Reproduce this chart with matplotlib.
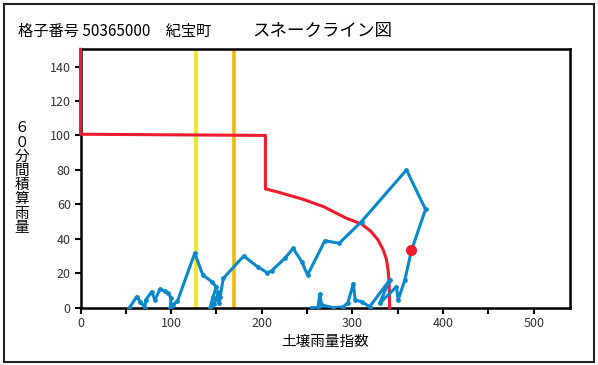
import matplotlib
matplotlib.use("Agg")
import matplotlib.pyplot as plt
from matplotlib.patches import Rectangle
from matplotlib.ticker import MultipleLocator

plt.rcParams['font.family'] = ['Noto Sans CJK JP', 'DejaVu Sans']

# Critical line (CL)
cl_x = [0, 0, 204, 204, 220, 245, 268, 293, 310, 320, 328, 334, 337.5, 339.5, 340.5, 341]
cl_y = [150, 100.7, 100, 69, 66.8, 63, 58.7, 52, 48.6, 44.5, 39.5, 33.5, 28, 21, 14, 0]

# Snake line (soil rainfall index vs 60-min rainfall)
snake_x = [54, 62, 66, 71, 72, 78.5, 82, 87.6, 93, 97, 100, 99, 102, 107,
           126, 135, 145, 150, 146, 143, 147, 150, 152, 153, 154, 157.5,
           180, 196, 206, 211, 225.5, 234.6, 244, 250.5, 269.6, 285.4, 310,
           359.6, 380.6, 365, 357.8, 350.4, 348.6, 330, 341, 319, 310, 303,
           301, 295, 290, 279, 266, 264, 262, 255]
snake_y = [0, 6.4, 3.5, 0, 4.5, 9.3, 4.5, 10.7, 9.7, 8.3, 5.5, 0, 1.6, 3.9,
           31.6, 19, 15, 12, 6, 0, 2, 5, 9, 3, 6, 17,
           30, 23.5, 20.3, 21.5, 28.7, 34.5, 26.7, 19, 38.9, 37.4, 50,
           80, 57.1, 33, 16.1, 4.5, 12.2, 2.5, 16, 0.6, 3.5, 4.5,
           14, 3, 0.5, 0, 1.6, 8, 0, 0]

# Current point
now_x = [365]
now_y = [33.5]

# Vertical reference lines
yellow_x = 127
orange_x = 169.6

fig = plt.figure(figsize=(5.98, 3.65), dpi=100)
ax = fig.add_axes([80.5/598, 1-307.7/365, (570-80.5)/598, (307.7-49.3)/365])

ax.axvline(yellow_x, color='#f2e41c', lw=2.6, zorder=2)
ax.axvline(orange_x, color='#f7b50a', lw=2.6, zorder=2)
ax.plot(cl_x, cl_y, color='#ee1c2c', lw=2.2, zorder=3, clip_on=False)
ax.plot(snake_x, snake_y, color='#0a88cc', lw=2.2, marker='o', ms=2.4,
        zorder=4, solid_joinstyle='round')
ax.plot(now_x, now_y, 'o', color='#ee1c2c', ms=7, zorder=5)

ax.set_xlim(0, 540)
ax.set_ylim(0, 150)
ax.xaxis.set_major_locator(MultipleLocator(100))
ax.xaxis.set_minor_locator(MultipleLocator(50))
ax.set_yticks([0, 20, 40, 60, 80, 100, 120, 140])
ax.tick_params(axis='both', which='both', direction='out', length=4, width=1.5,
               labelsize=9, labelcolor='#333333', color='black', pad=3)
for s in ax.spines.values():
    s.set_linewidth(1.8)
    s.set_color('black')

ax.set_xlabel('土壌雨量指数', fontsize=10.5, labelpad=3)

fig.text(22/598, 1-178/365, '\n'.join('６０分間積算雨量'), fontsize=10.5,
         ha='center', va='center', linespacing=1.02)
fig.text(18/598, 1-31/365, '格子番号 50365000\u2003紀宝町', fontsize=11,
         ha='left', va='center')
fig.text(252/598, 1-31/365, 'スネークライン図', fontsize=12.6,
         ha='left', va='center')

fig.patches.append(Rectangle((4/598, 3/365), 590/598, 358/365,
                             transform=fig.transFigure, fill=False,
                             edgecolor='#222222', lw=1.5))

fig.savefig('out.png', dpi=100)
